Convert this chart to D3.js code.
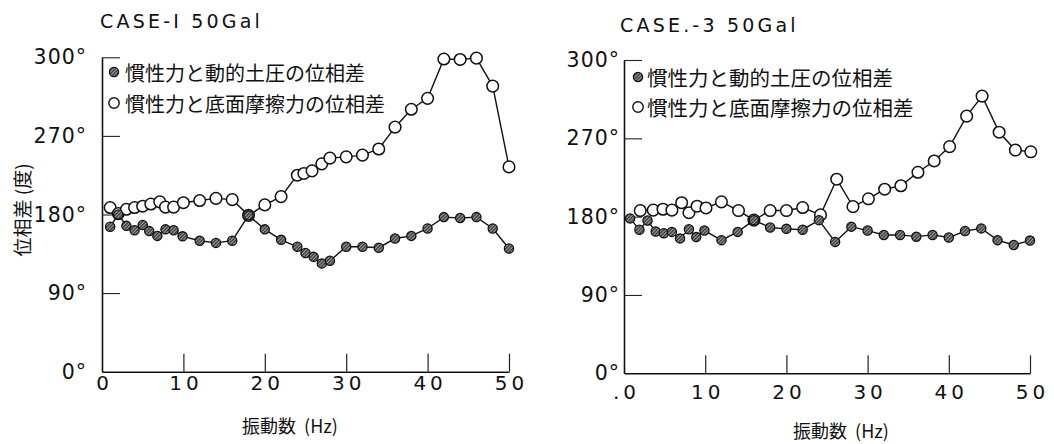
<!DOCTYPE html>
<html>
<head>
<meta charset="utf-8">
<script src="https://cdn.jsdelivr.net/npm/d3@7"></script>
<style>
  html, body { margin: 0; padding: 0; background: #fff; }
  svg { display: block; }
  .pre { white-space: pre; }
</style>
</head>
<body>
<svg id="fig" width="1054" height="444"></svg>
<script>
// ---- labels ----
const case1Title = "CASE-I 50Gal";
const case3Title = "CASE.-3 50Gal";
const legendLabels = ["慣性力と動的土圧の位相差", "慣性力と底面摩擦力の位相差"];
const xTitle = "振動数  (Hz)";
const yTitle = "位相差 (度)";
const yTickValues = [0, 90, 180, 270, 360];
const yTickLabels = ["0°", "90°", "180°", "270°", "300°"];
const xTickValues = [0, 10, 20, 30, 40, 50];
const xTickLabels1 = ["0", "10", "20", "30", "40", "50"];
const xTickLabels3 = [".0", "10", "20", "30", "40", "50"];

// ---- CASE-1: inertia force vs dynamic earth pressure (filled markers) ----
const case1EarthHz  = [1, 2, 3, 4, 5, 5.8, 6.8, 7.8, 8.8, 9.9, 12, 14, 16, 18, 20, 22, 24, 25, 26, 27, 28, 30, 32, 34, 36, 38, 40, 42, 44, 46, 48, 50];
const case1EarthDeg = [166, 180, 167, 162, 168, 161, 155.5, 163, 162, 155, 150, 147.5, 150, 179, 163, 151, 143, 136, 131.5, 124, 127, 143, 143, 142, 152.5, 155.5, 164, 177, 176, 177, 164, 141];

// ---- CASE-1: inertia force vs base friction (open markers) ----
const case1FrictionHz  = [1, 2, 3, 4, 5, 6, 7.1, 7.8, 8.8, 10, 12, 14, 16, 18, 20, 22, 24, 24.8, 25.8, 27, 28, 30, 32, 34, 36, 38, 40, 42, 44, 46, 48, 50];
const case1FrictionDeg = [188, 181, 186, 188, 189.5, 192, 194.5, 188.5, 188.5, 193.5, 196, 198.5, 197, 179, 191, 200.5, 225, 227, 230, 238, 244.5, 246, 248, 255, 280, 300.5, 313, 358, 357.5, 359, 327, 234.5];

// ---- CASE-3: inertia force vs dynamic earth pressure (filled markers) ----
const case3EarthHz  = [0.75, 1.9, 2.9, 3.9, 4.9, 5.9, 6.9, 8, 8.9, 9.9, 12, 14, 16, 18, 20, 22, 24, 26, 28, 30, 32, 34, 36, 38, 40, 42, 44, 46, 48, 50];
const case3EarthDeg = [178, 165, 175.5, 163, 161, 162.5, 155, 165.5, 156.5, 164, 153, 162.5, 176, 167.5, 166, 165, 176, 151, 168.5, 164, 159, 159, 157, 159, 156, 163.5, 166.5, 153, 147.5, 152.5];

// ---- CASE-3: inertia force vs base friction (open markers) ----
const case3FrictionHz  = [2, 3.6, 4.8, 5.9, 7.1, 8, 9, 10.1, 12, 14.1, 16, 18, 20, 22, 24.2, 26.2, 28.2, 30.1, 32.1, 34.1, 36.2, 38.2, 40.1, 42.2, 44.1, 46.2, 48.2, 50.1];
const case3FrictionDeg = [187, 187.5, 188.5, 187.5, 196, 184.5, 192, 190, 197, 187, 176, 187, 187, 190.5, 182, 223, 191.5, 200.5, 211.5, 215.5, 231, 244, 260.5, 295.5, 318.5, 277, 256.5, 254.5];

const svg = d3.select("#fig");
const NUM_FONT = "'DejaVu Sans', sans-serif";
const JP_FONT = "'Noto Sans CJK JP', 'Noto Sans', sans-serif";

// hatched fill for the solid markers
const defs = svg.append("defs");
const pat = defs.append("pattern")
  .attr("id", "hatch").attr("width", 2.4).attr("height", 2.4)
  .attr("patternUnits", "userSpaceOnUse")
  .attr("patternTransform", "rotate(45)");
pat.append("rect").attr("width", 2.4).attr("height", 2.4).attr("fill", "#a2a2a2");
pat.append("rect").attr("width", 1.3).attr("height", 2.4).attr("fill", "#333");

function pairs(xs, ys) { return xs.map((x, i) => [x, ys[i]]); }

function drawPanel(cfg) {
  const x = d3.scaleLinear().domain([0, 50]).range([cfg.x0, cfg.x1]);
  const y = d3.scaleLinear().domain([0, 360]).range([cfg.y0, cfg.y1]);
  const g = svg.append("g");

  // title
  g.append("text")
    .attr("x", cfg.titleX).attr("y", cfg.titleY)
    .attr("font-family", NUM_FONT).attr("font-size", 19)
    .attr("letter-spacing", 3.2).attr("fill", "#111")
    .text(cfg.title);

  // y axis
  const yAxis = d3.axisLeft(y)
    .tickValues(yTickValues)
    .tickFormat((d, i) => yTickLabels[i])
    .tickSizeInner(-18).tickSizeOuter(0)
    .tickPadding(cfg.yPad);
  const gy = g.append("g").attr("transform", `translate(${cfg.x0},0)`).call(yAxis);
  gy.select(".domain").attr("stroke", "#111").attr("stroke-width", 1.6);
  gy.selectAll(".tick line").attr("stroke", "#222").attr("stroke-width", 1.1)
    .filter(d => d === 0).remove();
  gy.selectAll(".tick text")
    .attr("font-family", NUM_FONT).attr("font-size", 20.5)
    .attr("letter-spacing", 1).attr("fill", "#111");

  // x axis
  const xAxis = d3.axisBottom(x)
    .tickValues(xTickValues)
    .tickFormat((d, i) => cfg.xLabels[i])
    .tickSizeInner(-18).tickSizeOuter(0)
    .tickPadding(cfg.xPad);
  const gx = g.append("g").attr("transform", `translate(0,${cfg.y0})`).call(xAxis);
  gx.select(".domain").attr("stroke", "#111").attr("stroke-width", 1.6);
  gx.selectAll(".tick line").attr("stroke", "#222").attr("stroke-width", 1.2)
    .filter(d => d === 0).remove();
  gx.selectAll(".tick text")
    .attr("font-family", NUM_FONT).attr("font-size", 20)
    .attr("letter-spacing", 4).attr("dx", 2).attr("fill", "#111");

  // x axis title
  g.append("text").attr("class", "pre")
    .attr("x", cfg.xTitleX).attr("y", cfg.xTitleY)
    .attr("text-anchor", "middle").attr("dominant-baseline", "central")
    .attr("font-family", JP_FONT).attr("font-size", 18).attr("fill", "#111")
    .text(xTitle);

  const line = d3.line().x(d => x(d[0])).y(d => y(d[1]));

  // friction series (open circles)
  const fr = pairs(cfg.frHz, cfg.frDeg);
  g.append("path").datum(fr).attr("d", line)
    .attr("fill", "none").attr("stroke", "#111").attr("stroke-width", 1.4);
  g.selectAll("circle.fr").data(fr).join("circle").attr("class", "fr")
    .attr("cx", d => x(d[0])).attr("cy", d => y(d[1])).attr("r", 5.8)
    .attr("fill", "#fff").attr("stroke", "#111").attr("stroke-width", 1.5);

  // earth pressure series (filled circles)
  const ea = pairs(cfg.eaHz, cfg.eaDeg);
  g.append("path").datum(ea).attr("d", line)
    .attr("fill", "none").attr("stroke", "#111").attr("stroke-width", 1.4);
  g.selectAll("circle.ea").data(ea).join("circle").attr("class", "ea")
    .attr("cx", d => x(d[0])).attr("cy", d => y(d[1])).attr("r", 4.6)
    .attr("fill", "url(#hatch)").attr("stroke", "#111").attr("stroke-width", 1.3);

  // legend
  const lg = g.append("g");
  lg.append("circle").attr("cx", cfg.legX).attr("cy", cfg.legY1).attr("r", 4.6)
    .attr("fill", "url(#hatch)").attr("stroke", "#111").attr("stroke-width", 1.3);
  lg.append("circle").attr("cx", cfg.legX).attr("cy", cfg.legY2).attr("r", 5.2)
    .attr("fill", "#fff").attr("stroke", "#111").attr("stroke-width", 1.4);
  [cfg.legY1, cfg.legY2].forEach((yy, i) => {
    lg.append("text")
      .attr("x", cfg.legTextX).attr("y", yy)
      .attr("dominant-baseline", "central")
      .attr("font-family", JP_FONT).attr("font-size", cfg.legFont).attr("fill", "#111")
      .text(legendLabels[i]);
  });
  return g;
}

drawPanel({
  x0: 102, x1: 509, y0: 371.7, y1: 57.3,
  yPad: 15, xPad: 4, xLabels: xTickLabels1,
  title: case1Title, titleX: 100, titleY: 28,
  xTitleX: 290, xTitleY: 425,
  frHz: case1FrictionHz, frDeg: case1FrictionDeg,
  eaHz: case1EarthHz, eaDeg: case1EarthDeg,
  legX: 114, legY1: 72, legY2: 103, legTextX: 125, legFont: 20
});

// vertical y axis title on the left panel
svg.append("text").attr("class", "pre")
  .attr("transform", "translate(21,210) rotate(-90)")
  .attr("text-anchor", "middle").attr("dominant-baseline", "central")
  .attr("font-family", JP_FONT).attr("font-size", 19).attr("fill", "#111")
  .text(yTitle);

drawPanel({
  x0: 624, x1: 1030, y0: 373.3, y1: 60,
  yPad: 4, xPad: 12, xLabels: xTickLabels3,
  title: case3Title, titleX: 620, titleY: 31.5,
  xTitleX: 841, xTitleY: 430,
  frHz: case3FrictionHz, frDeg: case3FrictionDeg,
  eaHz: case3EarthHz, eaDeg: case3EarthDeg,
  legX: 638, legY1: 77, legY2: 107, legTextX: 647, legFont: 20.5
});
</script>
</body>
</html>
